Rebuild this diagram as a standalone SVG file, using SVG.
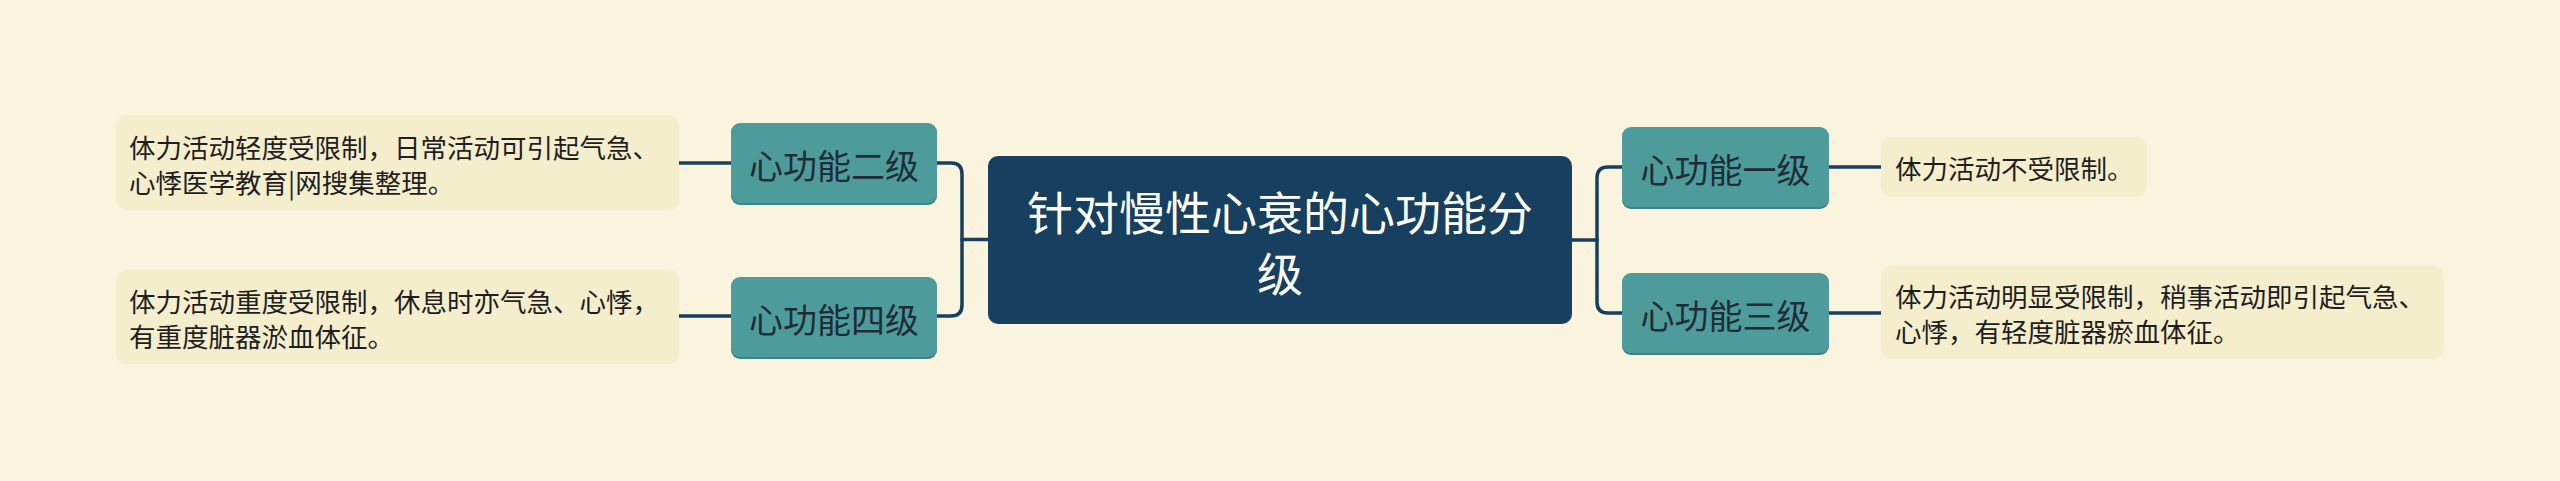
<svg xmlns="http://www.w3.org/2000/svg" width="2560" height="481" viewBox="0 0 2560 481">
<style>
.bg{fill:#faf4df}
.root{fill:#173f5f}
.sub{fill:#4e9b9c}
.subsh{fill:#3d8384}
.leaf{fill:#f5eecd}
.conn{fill:none;stroke:#173f5f;stroke-width:3.5;stroke-linecap:round}
.t-root{font-family:"Noto Sans CJK SC","Noto Sans",sans-serif;font-size:46px;fill:#ffffff;text-anchor:middle;dominant-baseline:central}
.t-sub{font-family:"Noto Sans CJK SC","Noto Sans",sans-serif;font-size:34px;fill:#1f2d36;text-anchor:middle;dominant-baseline:central}
.t-leaf{font-family:"Noto Sans CJK SC","Noto Sans",sans-serif;font-size:26.5px;fill:#1e1e1e;dominant-baseline:central}
</style>
<rect class="bg" x="0" y="0" width="2560" height="481"/>
<g id="connectors">
<path class="conn" d="M 988 239.5 H 962"/>
<path class="conn" d="M 937 163 H 951 Q 962 163 962 174 V 305 Q 962 316 951 316 H 937"/>
<path class="conn" d="M 1572 240 H 1597"/>
<path class="conn" d="M 1622 167 H 1608 Q 1597 167 1597 178 V 302 Q 1597 313 1608 313 H 1622"/>
<path class="conn" d="M 731 163 H 679"/>
<path class="conn" d="M 731 316 H 679"/>
<path class="conn" d="M 1829 167 H 1881"/>
<path class="conn" d="M 1829 313 H 1881"/>
</g>
<g id="root">
<rect class="root" x="988" y="156" width="584" height="168" rx="10"/>
<text class="t-root" x="1280" y="210">针对慢性心衰的心功能分</text>
<text class="t-root" x="1280" y="271">级</text>
</g>
<g id="n2">
<rect class="subsh" x="731" y="125" width="206" height="80" rx="9"/>
<rect class="sub" x="731" y="123" width="206" height="80" rx="9"/>
<text class="t-sub" x="834" y="164">心功能二级</text>
</g>
<g id="n4">
<rect class="subsh" x="731" y="279" width="206" height="80" rx="9"/>
<rect class="sub" x="731" y="277" width="206" height="80" rx="9"/>
<text class="t-sub" x="834" y="318">心功能四级</text>
</g>
<g id="n1">
<rect class="subsh" x="1622" y="129" width="207" height="80" rx="9"/>
<rect class="sub" x="1622" y="127" width="207" height="80" rx="9"/>
<text class="t-sub" x="1725.5" y="168">心功能一级</text>
</g>
<g id="n3">
<rect class="subsh" x="1622" y="275" width="207" height="80" rx="9"/>
<rect class="sub" x="1622" y="273" width="207" height="80" rx="9"/>
<text class="t-sub" x="1725.5" y="314">心功能三级</text>
</g>
<g id="leaf2">
<rect class="leaf" x="116" y="115" width="563" height="95" rx="10"/>
<text class="t-leaf" x="129" y="146">体力活动轻度受限制，日常活动可引起气急、</text>
<text class="t-leaf" x="129" y="181">心悸医学教育|网搜集整理。</text>
</g>
<g id="leaf4">
<rect class="leaf" x="116" y="270" width="563" height="94" rx="10"/>
<text class="t-leaf" x="129" y="300">体力活动重度受限制，休息时亦气急、心悸，</text>
<text class="t-leaf" x="129" y="335">有重度脏器淤血体征。</text>
</g>
<g id="leaf1">
<rect class="leaf" x="1881" y="137" width="266" height="60" rx="10"/>
<text class="t-leaf" x="1895" y="167">体力活动不受限制。</text>
</g>
<g id="leaf3">
<rect class="leaf" x="1881" y="266" width="563" height="93" rx="10"/>
<text class="t-leaf" x="1895" y="295">体力活动明显受限制，稍事活动即引起气急、</text>
<text class="t-leaf" x="1895" y="330">心悸，有轻度脏器瘀血体征。</text>
</g>
</svg>
